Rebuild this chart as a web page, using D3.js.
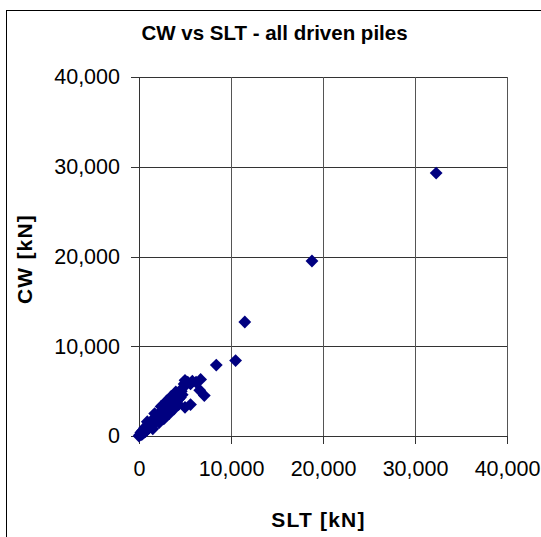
<!DOCTYPE html>
<html>
<head>
<meta charset="utf-8">
<script src="https://cdn.jsdelivr.net/npm/d3@7/dist/d3.min.js"></script>
<style>
  html, body { margin: 0; padding: 0; background: #fff; }
  svg { display: block; font-family: "Liberation Sans", Arial, sans-serif; }
</style>
</head>
<body>
<svg id="chart" width="541" height="537"></svg>
<script>
// Static load test (SLT) capacity vs CW capacity, kN
const slt = [0, 100, 200, 300, 400, 500, 600, 700, 800, 900, 1000, 1100, 1200, 1300, 1400, 1500,
  1600, 1700, 1800, 1900, 2000, 2100, 2200, 2300, 2400, 2500, 2600, 2700, 2800, 2900, 3000,
  3100, 3200, 3300, 3400, 3500, 3600, 3700, 3800, 3900, 4000, 4100, 4200, 4300, 4400, 4500,
  4600, 4700, 4800, 4900, 5000, 5300, 5600, 5800, 6200, 6700, 6600, 7100, 5000, 5600,
  1500, 2200, 2700, 3300, 3800, 4300, 900, 1700, 2400, 3000, 3500, 4000,
  8400, 10500, 11500, 18800, 32300];
const cw = [0, 150, 400, 150, 600, 350, 900, 500, 1100, 700, 1300, 900, 1500, 1100, 1700, 1300,
  1900, 1500, 2100, 1700, 2300, 1900, 2500, 2100, 2700, 2300, 2900, 2500, 3100, 2700, 3300,
  2900, 3500, 3100, 3700, 3300, 3900, 3500, 4100, 3700, 4300, 3900, 4500, 4100, 4700, 4300,
  5000, 4600, 5400, 5800, 6200, 6000, 5800, 6100, 6000, 6300, 5100, 4500, 3200, 3500,
  800, 1500, 1900, 2500, 3000, 3500, 1600, 2500, 3300, 3900, 4400, 4900,
  7900, 8400, 12700, 19500, 29300];
const tickValues = [0, 10000, 20000, 30000, 40000];
const titleText = "CW vs SLT - all driven piles";
const xTitle = "SLT [kN]";
const yTitle = "CW [kN]";

const svg = d3.select("#chart");
const plotLeft = 139, plotRight = 507, plotTop = 77, plotBottom = 436;

// outer chart frame
svg.append("rect")
  .attr("x", 6.5).attr("y", 10.5)
  .attr("width", 700).attr("height", 700)
  .attr("fill", "#fff").attr("stroke", "#000").attr("stroke-width", 1);

const x = d3.scaleLinear().domain([0, 40000]).range([plotLeft, plotRight]);
const y = d3.scaleLinear().domain([0, 40000]).range([plotBottom, plotTop]);
const fmt = d3.format(",");

// gridlines
const grid = svg.append("g").attr("shape-rendering", "crispEdges");
grid.selectAll("line.h").data(tickValues.slice(1)).join("line")
  .attr("class", "h")
  .attr("x1", plotLeft).attr("x2", plotRight)
  .attr("y1", d => Math.round(y(d)) + 0.5).attr("y2", d => Math.round(y(d)) + 0.5)
  .attr("stroke", "#333").attr("stroke-width", 1);
grid.selectAll("line.v").data(tickValues.slice(1)).join("line")
  .attr("class", "v")
  .attr("y1", plotTop).attr("y2", plotBottom)
  .attr("x1", d => Math.round(x(d)) + 0.5).attr("x2", d => Math.round(x(d)) + 0.5)
  .attr("stroke", "#555").attr("stroke-width", 1);

// axes
const xAxis = d3.axisBottom(x).tickValues(tickValues).tickFormat(fmt)
  .tickSizeInner(8).tickSizeOuter(0).tickPadding(17);
const yAxis = d3.axisLeft(y).tickValues(tickValues).tickFormat(fmt)
  .tickSizeInner(8).tickSizeOuter(0).tickPadding(11);

const gx = svg.append("g").attr("transform", `translate(0,${plotBottom})`).call(xAxis);
const gy = svg.append("g").attr("transform", `translate(${plotLeft},0)`).call(yAxis);
[gx, gy].forEach(g => {
  g.attr("shape-rendering", "crispEdges");
  g.select(".domain").attr("stroke", "#333");
  g.selectAll(".tick line").attr("stroke", "#333");
  g.selectAll("text").attr("font-family", "'Liberation Sans', Arial, sans-serif")
    .attr("font-size", 21.5).attr("fill", "#000");
});

// markers
const pts = slt.map((v, i) => ({ x: v, y: cw[i] }));
const r = 6.4;
svg.append("g").selectAll("path").data(pts).join("path")
  .attr("d", `M0,${-r}L${r},0L0,${r}L${-r},0Z`)
  .attr("transform", d => `translate(${x(d.x)},${y(d.y)})`)
  .attr("fill", "#000080");

// titles
svg.append("text")
  .attr("x", 274.5).attr("y", 40)
  .attr("text-anchor", "middle")
  .attr("font-size", 20.5).attr("font-weight", "bold")
  .text(titleText);

svg.append("text")
  .attr("x", 318.5).attr("y", 527)
  .attr("text-anchor", "middle")
  .attr("font-size", 21).attr("font-weight", "bold")
  .attr("letter-spacing", 1.2)
  .text(xTitle);

svg.append("text")
  .attr("transform", "translate(31.5,259) rotate(-90)")
  .attr("text-anchor", "middle")
  .attr("font-size", 21).attr("font-weight", "bold")
  .attr("letter-spacing", 1.2)
  .text(yTitle);
</script>
</body>
</html>
